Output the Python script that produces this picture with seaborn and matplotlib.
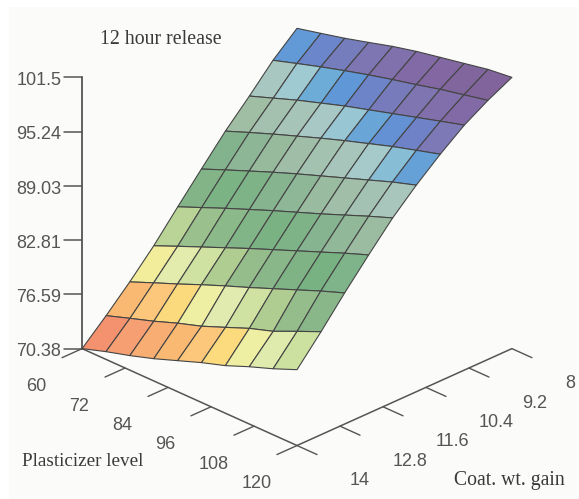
import numpy as np
import matplotlib
matplotlib.use('Agg')
import matplotlib.pyplot as plt
import seaborn as sns
from matplotlib.colors import LinearSegmentedColormap, Normalize
from matplotlib.patches import Rectangle
from mpl_toolkits.mplot3d import proj3d

# Surface grid
plasticizer = [60, 66.67, 73.33, 80, 86.67, 93.33, 100, 106.67, 113.33, 120]
coat_gain = [14, 13.33, 12.67, 12, 11.33, 10.67, 10, 9.33, 8.67, 8]
release_14 = [70.38, 71.27, 72.05, 72.93, 73.94, 74.95, 75.84, 76.95, 77.95, 79.08]
release_13 = [72.92, 73.85, 74.75, 75.76, 76.65, 77.75, 78.87, 79.77, 81.0, 82.19]
release_12_7 = [75.57, 76.7, 77.8, 78.95, 80.05, 81.1, 82.2, 83.3, 84.4, 85.42]
release_12 = [78.47, 79.65, 80.8, 81.95, 83.1, 84.2, 85.3, 86.4, 87.5, 88.54]
release_11_3 = [81.70, 82.85, 84.0, 85.1, 86.2, 87.25, 88.3, 89.4, 90.5, 91.54]
release_10_7 = [84.81, 85.95, 87.05, 88.15, 89.2, 90.2, 91.2, 92.2, 93.2, 94.08]
release_10 = [87.92, 89.0, 90.05, 91.05, 92.05, 93.0, 93.9, 94.8, 95.6, 96.39]
release_9_3 = [90.70, 91.7, 92.7, 93.6, 94.5, 95.3, 96.1, 96.9, 97.7, 98.48]
release_8_7 = [93.58, 94.45, 95.3, 96.1, 96.85, 97.55, 98.2, 98.9, 99.5, 100.10]
release_8 = [96.01, 96.67, 97.34, 98.10, 98.88, 99.54, 100.09, 100.63, 101.18, 101.5]

# Axis ticks
plasticizer_ticks = [60, 72, 84, 96, 108, 120]
coat_ticks = [14, 12.8, 11.6, 10.4, 9.2, 8]
coat_tick_labels = ['14', '12.8', '11.6', '10.4', '9.2', '8']
release_ticks = [70.38, 76.59, 82.81, 89.03, 95.24, 101.5]
release_tick_labels = ['70.38', '76.59', '82.81', '89.03', '95.24', '101.5']

# Colour ramp of the surface
ramp_levels = [70.38, 72.1, 73, 73.9, 74.8, 75.8, 76.9, 77.7, 78.8, 80, 81, 82, 83.8,
               85.5, 87.5, 90, 92.5, 93.5, 94.3, 95.3, 96.2, 97.2, 99, 101.5]
ramp_colors = ['#f4916e', '#f4916e', '#f5a073', '#f8af73', '#fab973', '#fcc87a',
               '#fbdc7d', '#f0f0a0', '#e1ebaf', '#cde1a0', '#afcd91', '#96be8c',
               '#82b487', '#78b282', '#87b491', '#a0bea5', '#a8c6be', '#a5cdd2',
               '#6eafd7', '#5f96d7', '#6e82c8', '#7d78b4', '#8269a5', '#806296']

sns.set_theme(style='white')
plt.rcParams['font.family'] = ['Liberation Sans', 'DejaVu Sans']

W, H = 579, 499
fig = plt.figure(figsize=(W / 100, H / 100), dpi=100, facecolor='white')
fig.add_artist(Rectangle((9 / W, 0), 1, 1 - 7 / H, transform=fig.transFigure,
                         facecolor='#fbfbf9', edgecolor='none', zorder=-5))

# Square panel placed so that the cube lands where it is in the picture
side = 511
ax = fig.add_axes([34.6 / W, 23.6 / H, side / W, side / H], projection='3d',
                  proj_type='ortho', computed_zorder=False)
ax.patch.set_visible(False)
ax.set_axis_off()
ax.view_init(elev=26.8, azim=-45)
ax.set_box_aspect((1, 1, 1))
ax.set_xlim(60, 120, view_margin=0)
ax.set_ylim(14, 8, view_margin=0)
ax.set_zlim(70.38, 101.5, view_margin=0)

X, Y = np.meshgrid(plasticizer, coat_gain)
Z = np.array([release_14, release_13, release_12_7, release_12, release_11_3,
              release_10_7, release_10, release_9_3, release_8_7, release_8])

lo, hi = ramp_levels[0], ramp_levels[-1]
ramp = LinearSegmentedColormap.from_list(
    'release', [((v - lo) / (hi - lo), c) for v, c in zip(ramp_levels, ramp_colors)])
cells = (Z[:-1, :-1] + Z[1:, :-1] + Z[:-1, 1:] + Z[1:, 1:]) / 4
facecolors = ramp(Normalize(lo, hi)(cells))

axis_color = '#555555'
zb = 70.38
proj = ax.get_proj()


def label_3d(x, y, z, s, ha):
    # flat text at the projected spot of a 3d point
    px, py, _ = proj3d.proj_transform(x, y, z, proj)
    ax.text2D(px, py, s, transform=ax.transData, ha=ha, va='center', fontsize=13,
              color='#555555')


# Axes and tick marks
ax.plot([60, 120], [14, 14], [zb, zb], color=axis_color, lw=1.1, zorder=1)
ax.plot([120, 120], [14, 8], [zb, zb], color=axis_color, lw=1.1, zorder=1)
ax.plot([60, 60], [14, 14], [zb, 101.5], color=axis_color, lw=1.3, zorder=1)
for p in plasticizer_ticks:
    ax.plot([p, p], [14, 14.56], [zb, zb], color=axis_color, lw=1, zorder=1)
    label_3d(p + 3.3, 15.89, zb - 0.25, str(p), 'left')
for c, lab in zip(coat_ticks, coat_tick_labels):
    ax.plot([120, 125.6], [c, c], [zb, zb], color=axis_color, lw=1, zorder=1)
    label_3d(137.9, c + 0.31, zb - 0.15, lab, 'left')
for r, lab in zip(release_ticks, release_tick_labels):
    ax.plot([57.5, 60], [14.25, 14], [r, r], color=axis_color, lw=1.1, zorder=1)
    label_3d(57.07, 14.29, r - 0.35, lab, 'right')

ax.plot_surface(X, Y, Z, facecolors=facecolors, rstride=1, cstride=1, shade=False,
                edgecolor='#444444', linewidth=0.8, zorder=2)

# Titles
fig.text(100 / W, 1 - 40 / H, '12 hour release', family='Liberation Serif',
         fontsize=14.3, color='#3a3a3a', ha='left', va='center')
fig.text(22 / W, 1 - 462 / H, 'Plasticizer level', family='Liberation Serif',
         fontsize=13.8, color='#3a3a3a', ha='left', va='center')
fig.text(454 / W, 1 - 481 / H, 'Coat. wt. gain', family='Liberation Serif',
         fontsize=14.2, color='#3a3a3a', ha='left', va='center')

fig.savefig('out.png', dpi=100)
